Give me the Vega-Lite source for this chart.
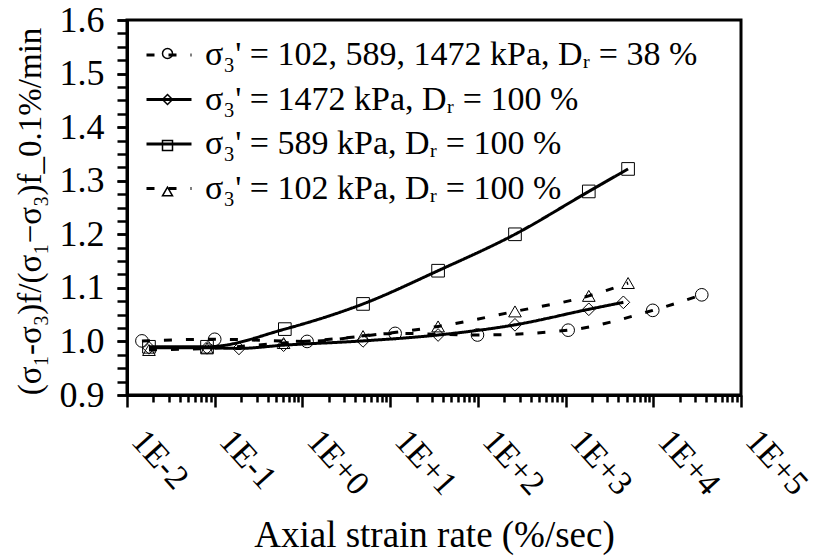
{
  "$schema": "https://vega.github.io/schema/vega-lite/v6.json",
  "width": 614,
  "height": 375,
  "autosize": {"type": "none"},
  "padding": {"left": 127, "top": 20, "right": 84, "bottom": 163},
  "background": "white",
  "config": {
    "view": {"stroke": "black", "strokeWidth": 3},
    "font": "Liberation Serif",
    "axis": {
      "grid": false,
      "domainColor": "black",
      "domainWidth": 3,
      "tickColor": "black",
      "tickWidth": 2.5,
      "labelColor": "black",
      "titleColor": "black",
      "labelFont": "Liberation Serif",
      "titleFont": "Liberation Serif",
      "titleFontWeight": "normal"
    },
    "legend": {
      "labelFont": "Liberation Serif",
      "labelColor": "black",
      "labelFontSize": 34,
      "labelLimit": 0,
      "labelOffset": 12,
      "padding": 0
    }
  },
  "data": {
    "values": [
      {"series": "σ₃' = 102, 589, 1472 kPa, Dᵣ = 38 %", "rate": 0.0148, "ratio": 1.001},
      {"series": "σ₃' = 102, 589, 1472 kPa, Dᵣ = 38 %", "rate": 0.1, "ratio": 1.004},
      {"series": "σ₃' = 102, 589, 1472 kPa, Dᵣ = 38 %", "rate": 1.13, "ratio": 1.0},
      {"series": "σ₃' = 102, 589, 1472 kPa, Dᵣ = 38 %", "rate": 11.4, "ratio": 1.015},
      {"series": "σ₃' = 102, 589, 1472 kPa, Dᵣ = 38 %", "rate": 99, "ratio": 1.012},
      {"series": "σ₃' = 102, 589, 1472 kPa, Dᵣ = 38 %", "rate": 1070, "ratio": 1.021},
      {"series": "σ₃' = 102, 589, 1472 kPa, Dᵣ = 38 %", "rate": 9860, "ratio": 1.058},
      {"series": "σ₃' = 102, 589, 1472 kPa, Dᵣ = 38 %", "rate": 35700, "ratio": 1.087},

      {"series": "σ₃' = 1472 kPa, Dᵣ = 100 %", "rate": 0.0178, "ratio": 0.988},
      {"series": "σ₃' = 1472 kPa, Dᵣ = 100 %", "rate": 0.0817, "ratio": 0.988},
      {"series": "σ₃' = 1472 kPa, Dᵣ = 100 %", "rate": 0.189, "ratio": 0.987},
      {"series": "σ₃' = 1472 kPa, Dᵣ = 100 %", "rate": 0.61, "ratio": 0.993},
      {"series": "σ₃' = 1472 kPa, Dᵣ = 100 %", "rate": 4.91, "ratio": 1.001},
      {"series": "σ₃' = 1472 kPa, Dᵣ = 100 %", "rate": 35.2, "ratio": 1.012},
      {"series": "σ₃' = 1472 kPa, Dᵣ = 100 %", "rate": 265, "ratio": 1.031},
      {"series": "σ₃' = 1472 kPa, Dᵣ = 100 %", "rate": 1840, "ratio": 1.06},
      {"series": "σ₃' = 1472 kPa, Dᵣ = 100 %", "rate": 4560, "ratio": 1.073},

      {"series": "σ₃' = 589 kPa, Dᵣ = 100 %", "rate": 0.0178, "ratio": 0.99},
      {"series": "σ₃' = 589 kPa, Dᵣ = 100 %", "rate": 0.0817, "ratio": 0.99},
      {"series": "σ₃' = 589 kPa, Dᵣ = 100 %", "rate": 0.63, "ratio": 1.023},
      {"series": "σ₃' = 589 kPa, Dᵣ = 100 %", "rate": 4.91, "ratio": 1.07},
      {"series": "σ₃' = 589 kPa, Dᵣ = 100 %", "rate": 35.2, "ratio": 1.132},
      {"series": "σ₃' = 589 kPa, Dᵣ = 100 %", "rate": 265, "ratio": 1.2},
      {"series": "σ₃' = 589 kPa, Dᵣ = 100 %", "rate": 1840, "ratio": 1.28},
      {"series": "σ₃' = 589 kPa, Dᵣ = 100 %", "rate": 5160, "ratio": 1.322},

      {"series": "σ₃' = 102 kPa, Dᵣ = 100 %", "rate": 0.0178, "ratio": 0.984},
      {"series": "σ₃' = 102 kPa, Dᵣ = 100 %", "rate": 0.0817, "ratio": 0.987},
      {"series": "σ₃' = 102 kPa, Dᵣ = 100 %", "rate": 0.61, "ratio": 0.997},
      {"series": "σ₃' = 102 kPa, Dᵣ = 100 %", "rate": 4.91, "ratio": 1.01},
      {"series": "σ₃' = 102 kPa, Dᵣ = 100 %", "rate": 35.2, "ratio": 1.028},
      {"series": "σ₃' = 102 kPa, Dᵣ = 100 %", "rate": 265, "ratio": 1.056},
      {"series": "σ₃' = 102 kPa, Dᵣ = 100 %", "rate": 1840, "ratio": 1.085},
      {"series": "σ₃' = 102 kPa, Dᵣ = 100 %", "rate": 5160, "ratio": 1.109}
    ]
  },
  "layer": [
    {
      "mark": {"type": "point", "filled": false, "color": "black", "strokeWidth": 1, "size": 160, "opacity": 1},
      "encoding": {
        "x": {
          "field": "rate",
          "type": "quantitative",
          "scale": {"type": "log", "domain": [0.01, 100000]},
          "axis": {
            "orient": "bottom",
            "values": [0.02, 0.03, 0.04, 0.05, 0.06, 0.07, 0.08, 0.09,
                       0.2, 0.3, 0.4, 0.5, 0.6, 0.7, 0.8, 0.9,
                       2, 3, 4, 5, 6, 7, 8, 9,
                       20, 30, 40, 50, 60, 70, 80, 90,
                       200, 300, 400, 500, 600, 700, 800, 900,
                       2000, 3000, 4000, 5000, 6000, 7000, 8000, 9000,
                       20000, 30000, 40000, 50000, 60000, 70000, 80000, 90000],
            "tickSize": 7,
            "labels": false,
            "domain": false,
            "title": null
          }
        },
        "y": {
          "field": "ratio",
          "type": "quantitative",
          "scale": {"domain": [0.9, 1.6], "nice": false, "zero": false},
          "axis": {
            "orient": "left",
            "values": [0.9, 0.925, 0.95, 0.975, 1.0, 1.025, 1.05, 1.075, 1.1, 1.125, 1.15, 1.175, 1.2, 1.225, 1.25, 1.275, 1.3, 1.325, 1.35, 1.375, 1.4, 1.425, 1.45, 1.475, 1.5, 1.525, 1.55, 1.575, 1.6],
            "tickSize": 10,
            "labels": false,
            "domain": false,
            "title": null
          }
        },
        "shape": {
          "field": "series",
          "type": "nominal",
          "scale": {
            "domain": ["σ₃' = 102, 589, 1472 kPa, Dᵣ = 38 %", "σ₃' = 1472 kPa, Dᵣ = 100 %", "σ₃' = 589 kPa, Dᵣ = 100 %", "σ₃' = 102 kPa, Dᵣ = 100 %"],
            "range": ["circle", "diamond", "square", "triangle-up"]
          },
          "legend": {
            "title": null,
            "orient": "none",
            "legendX": 23,
            "legendY": 16,
            "rowPadding": 10,
            "labelFontSize": 35,
            "labelExpr": "''",
            "symbolOpacity": 1
          }
        }
      }
    },
    {
      "mark": {"type": "line", "color": "black", "strokeWidth": 3, "interpolate": "monotone"},
      "encoding": {
        "x": {
          "field": "rate",
          "type": "quantitative",
          "scale": {"type": "log", "domain": [0.01, 100000]},
          "axis": {
            "orient": "bottom",
            "values": [0.01, 0.1, 1, 10, 100, 1000, 10000, 100000],
            "tickSize": 12,
            "labelExpr": "'1E' + (datum.value >= 1 ? '+' : '') + round(log(datum.value) / LN10)",
            "labelFontSize": 34,
            "labelAngle": 48,
            "labelAlign": "left",
            "labelBaseline": "middle",
            "labelPadding": 28,
            "labelOffset": 10,
            "labelFlush": false,
            "labelOverlap": false,
            "title": "Axial strain rate (%/sec)",
            "titleFontSize": 37,
            "titleY": 140,
            "titleBaseline": "middle"
          }
        },
        "y": {
          "field": "ratio",
          "type": "quantitative",
          "scale": {"domain": [0.9, 1.6], "nice": false, "zero": false},
          "axis": {
            "orient": "left",
            "values": [0.9, 1.0, 1.1, 1.2, 1.3, 1.4, 1.5, 1.6],
            "format": ".1f",
            "tickSize": 10,
            "labelFontSize": 36,
            "labelPadding": 13,
            "labelFlush": false,
            "labelOverlap": false,
            "title": "(σ₁-σ₃)f/(σ₁−σ₃)f_0.1%/min",
            "titleFontSize": 33,
            "titleX": -97,
            "titleY": 191,
            "titleBaseline": "middle"
          }
        },
        "strokeDash": {
          "field": "series",
          "type": "nominal",
          "sort": ["σ₃' = 102, 589, 1472 kPa, Dᵣ = 38 %", "σ₃' = 1472 kPa, Dᵣ = 100 %", "σ₃' = 589 kPa, Dᵣ = 100 %", "σ₃' = 102 kPa, Dᵣ = 100 %"],
          "scale": {"range": [[8, 14], [1, 0], [1, 0], [8, 14]]},
          "legend": {
            "title": null,
            "orient": "none",
            "legendX": 18,
            "legendY": 11,
            "rowPadding": 3.5,
            "symbolType": "stroke",
            "symbolSize": 2025,
            "symbolStrokeWidth": 3,
            "symbolStrokeColor": "black"
          }
        }
      }
    }
  ],
  "resolve": {"axis": {"x": "independent", "y": "independent"}}
}
